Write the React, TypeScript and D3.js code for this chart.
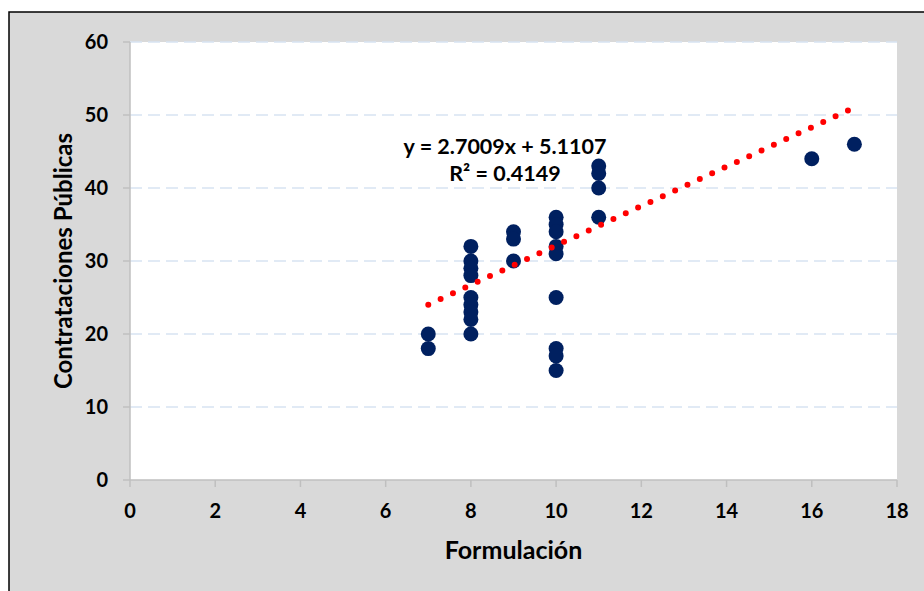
import * as d3 from "d3";

// Formulación (x) vs Contrataciones Públicas (y)
const formulacion = [
  7, 7,
  8, 8, 8, 8, 8, 8, 8, 8, 8,
  9, 9, 9,
  10, 10, 10, 10, 10, 10, 10, 10, 10,
  11, 11, 11, 11,
  16, 17,
];
const contrataciones = [
  20, 18,
  32, 30, 29, 28, 25, 24, 23, 22, 20,
  34, 33, 30,
  36, 35, 34, 32, 31, 25, 18, 17, 15,
  43, 42, 40, 36,
  44, 46,
];
const xTicks = [0, 2, 4, 6, 8, 10, 12, 14, 16, 18];
const yTicks = [0, 10, 20, 30, 40, 50, 60];
const trendSlope = 2.7009;
const trendIntercept = 5.1107;
const trendRange = [7, 17];

const W = 924;
const H = 591;
const FONT = "Lato, 'Open Sans', sans-serif";
const POINT_COLOR = "#002060";
const TREND_COLOR = "#FF0000";
const GRID_COLOR = "#D7E4F2";
const AXIS_COLOR = "#BFBFBF";

export default function App() {
  const margin = { top: 42, right: 27, bottom: 111, left: 130 };
  const x = d3.scaleLinear().domain([0, 18]).range([margin.left, W - margin.right]);
  const y = d3.scaleLinear().domain([0, 60]).range([H - margin.bottom, margin.top]);
  const [x0, x1] = x.range();
  const [yb, yt] = y.range();

  const trend = d3.line<number>()
    .x((d) => x(d))
    .y((d) => y(trendSlope * d + trendIntercept));

  return (
    <svg width={W} height={H} style={{ position: "absolute", left: 0, top: 0 }} fontFamily={FONT}>
      <rect x={0} y={0} width={W} height={H} fill="#fff" />
      {/* chart frame */}
      <rect x={9} y={12} width={W + 20} height={H + 20} fill="#D9D9D9" stroke="#000" strokeWidth={1.5} />
      {/* plot area */}
      <rect x={x0} y={yt} width={x1 - x0} height={yb - yt} fill="#fff" />

      {/* grid */}
      {yTicks.filter((t) => t > 0).map((t) => (
        <line key={t} x1={x0} x2={x1} y1={y(t)} y2={y(t)} stroke={GRID_COLOR} strokeWidth={1.5} strokeDasharray="12,6" />
      ))}

      {/* axes */}
      <line x1={x0} x2={x0} y1={yt} y2={yb} stroke={AXIS_COLOR} strokeWidth={1.5} />
      <line x1={x0} x2={x1} y1={yb} y2={yb} stroke={AXIS_COLOR} strokeWidth={1.5} />
      {yTicks.map((t) => (
        <g key={t}>
          <line x1={x0 - 7} x2={x0} y1={y(t)} y2={y(t)} stroke={AXIS_COLOR} strokeWidth={1.5} />
          <text x={108} y={y(t)} dy="0.36em" textAnchor="end" fontSize={20} fontWeight="bold" fill="#000">{t}</text>
        </g>
      ))}
      {xTicks.map((t) => (
        <g key={t}>
          <line x1={x(t)} x2={x(t)} y1={yb} y2={yb + 7} stroke={AXIS_COLOR} strokeWidth={1.5} />
          <text x={x(t)} y={518} textAnchor="middle" fontSize={20} fontWeight="bold" fill="#000">{t}</text>
        </g>
      ))}

      {/* points */}
      {formulacion.map((fx, i) => (
        <circle key={i} cx={x(fx)} cy={y(contrataciones[i])} r={7.5} fill={POINT_COLOR} />
      ))}

      {/* trend line */}
      <path d={trend(trendRange) || ""} fill="none" stroke={TREND_COLOR} strokeWidth={6}
        strokeLinecap="round" strokeDasharray="0,13.6" />

      {/* equation */}
      <text x={505} y={154} textAnchor="middle" fontSize={21.5} fontWeight="bold" fill="#000">
        y = 2.7009x + 5.1107
      </text>
      <text x={505} y={181} textAnchor="middle" fontSize={21.5} fontWeight="bold" fill="#000">
        R² = 0.4149
      </text>

      {/* axis titles */}
      <text x={(x0 + x1) / 2} y={559} textAnchor="middle" fontSize={25} fontWeight="bold" fill="#000">Formulación</text>
      <text transform={`translate(72,${(yt + yb) / 2}) rotate(-90)`} textAnchor="middle" fontSize={24} fontWeight="bold" fill="#000">
        Contrataciones Públicas
      </text>
    </svg>
  );
}
